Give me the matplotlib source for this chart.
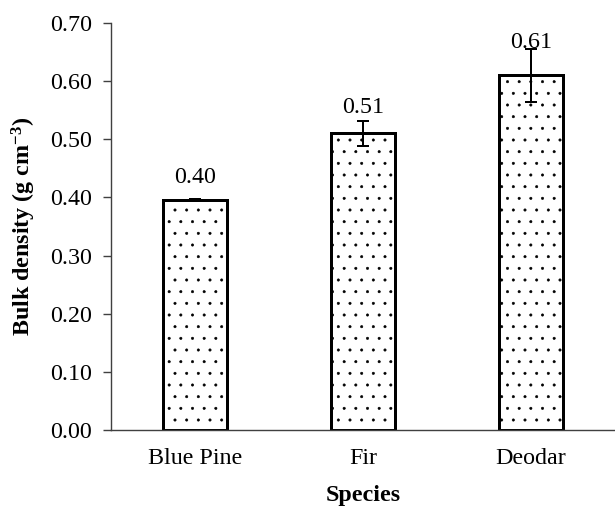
import matplotlib
matplotlib.use("Agg")
import matplotlib.pyplot as plt

# data
species = ["Blue Pine", "Fir", "Deodar"]
bulk_density = [0.396, 0.510, 0.610]
errors = [0.002, 0.021, 0.046]
value_labels = ["0.40", "0.51", "0.61"]
y_ticks = [0.0, 0.1, 0.2, 0.3, 0.4, 0.5, 0.6, 0.7]

DPI = 70            # low dpi so the '.' hatch spacing looks like the Excel dots
PX = 72 / DPI       # points per pixel

plt.rcParams["font.family"] = ["Liberation Serif", "DejaVu Serif"]
plt.rcParams["mathtext.fontset"] = "custom"
plt.rcParams["mathtext.rm"] = "Liberation Serif"
plt.rcParams["mathtext.bf"] = "Liberation Serif:bold"
plt.rcParams["hatch.linewidth"] = 0.6
plt.rcParams["hatch.color"] = "black"

fig = plt.figure(figsize=(615 / DPI, 508 / DPI), dpi=DPI)
ax = fig.add_axes([111 / 615, 78 / 508, 504 / 615, 407 / 508])

x = range(len(species))
ax.bar(x, bulk_density, width=0.38, color="white", edgecolor="black",
       linewidth=3 * PX, hatch=".", zorder=2)
ax.errorbar(x, bulk_density, yerr=errors, fmt="none", ecolor="black",
            elinewidth=2 * PX, capsize=6 * PX, capthick=2 * PX, zorder=3)

# Excel put the labels at slightly different heights above each bar
label_offsets = [22, 26, 33]
for xi, val, txt, off in zip(x, bulk_density, value_labels, label_offsets):
    ax.annotate(txt, (xi, val), xytext=(0, off * PX), textcoords="offset points",
                ha="center", va="center", fontsize=24 * PX, zorder=4)

ax.set_xlim(-0.5, 2.5)
ax.set_ylim(0, 0.70)
ax.set_yticks(y_ticks)
ax.set_yticklabels([f"{t:.2f}" for t in y_ticks])
ax.set_xticks(list(x))
ax.set_xticklabels(species)

for side in ["top", "right"]:
    ax.spines[side].set_visible(False)
for side in ["left", "bottom"]:
    ax.spines[side].set_color("#404040")
    ax.spines[side].set_linewidth(1.4 * PX)

ax.tick_params(axis="y", direction="out", length=8 * PX, width=1.4 * PX,
               color="#404040", pad=11 * PX, labelsize=24 * PX)
ax.tick_params(axis="x", length=0, pad=18 * PX, labelsize=24 * PX)

ax.set_xlabel("Species", fontweight="bold", fontsize=24 * PX, labelpad=16 * PX)
ax.set_ylabel(r"Bulk density (g cm$\mathbf{^{-3}}$)", fontweight="bold",
              fontsize=24 * PX, labelpad=12 * PX)

fig.savefig("out.png", dpi=DPI)
